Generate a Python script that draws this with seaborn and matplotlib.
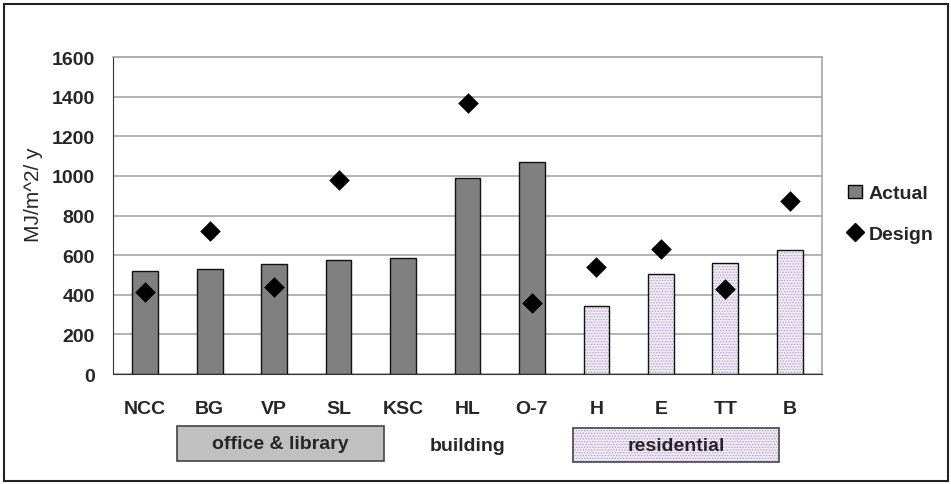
import numpy as np
import pandas as pd
import matplotlib
matplotlib.use("Agg")
import matplotlib.pyplot as plt
import seaborn as sns
from matplotlib.patches import Patch, Rectangle
from matplotlib.lines import Line2D

buildings = ["NCC", "BG", "VP", "SL", "KSC", "HL", "O-7", "H", "E", "TT", "B"]
groups = ["office", "office", "office", "office", "office", "office", "office",
          "residential", "residential", "residential", "residential"]
actual = [522, 532, 553, 576, 585, 989, 1068, 344, 503, 561, 625]
design = [413, 724, 440, 981, np.nan, 1370, 357, 542, 629, 431, 871]

df = pd.DataFrame({"building": buildings, "group": groups,
                   "Actual": actual, "Design": design})

sns.set_style("white")
plt.rcParams["font.family"] = ["Liberation Sans", "DejaVu Sans"]
plt.rcParams["hatch.linewidth"] = 0.6

office_grey = "#808080"
resid_fill = "#f0eaf5"
resid_dots = "#b29dc9"

fig = plt.figure(figsize=(9.51, 4.85), dpi=100)
ax = fig.add_axes([0.1188, 0.2268, 0.7456, 0.6536])

pal = {"office": office_grey, "residential": resid_fill}
sns.barplot(data=df, x="building", y="Actual", hue="group", palette=pal,
            order=buildings, width=0.4, linewidth=0, dodge=False,
            legend=False, ax=ax, zorder=2)
for p, g in zip(sorted(ax.patches, key=lambda r: r.get_x()), groups):
    if g == "residential":
        p.set_hatch("......")
        p.set_edgecolor(resid_dots)
        p.set_linewidth(0)

sns.barplot(data=df, x="building", y="Actual", order=buildings, width=0.4,
            fill=False, color="#111111", linewidth=1, ax=ax, zorder=3)

sns.stripplot(data=df, x="building", y="Design", order=buildings,
              jitter=False, marker="D", color="black", size=10.5,
              linewidth=0, ax=ax, zorder=4)

ax.set_ylim(0, 1600)
ax.set_xlim(-0.5, len(buildings) - 0.5)
ax.set_yticks(range(0, 1601, 200))
ax.yaxis.grid(True, color="#a6a6a6", linewidth=1.2, zorder=0)
ax.set_axisbelow(True)

for side in ["top", "right"]:
    ax.spines[side].set_color("#a6a6a6")
    ax.spines[side].set_linewidth(1.2)
ax.spines["left"].set_color("#333333")
ax.spines["bottom"].set_color("#333333")

ax.tick_params(axis="y", direction="out", length=6, width=1, color="#333333",
               pad=7, labelsize=14)
ax.tick_params(axis="x", length=0, pad=19, labelsize=14)
for lab in ax.get_xticklabels() + ax.get_yticklabels():
    lab.set_fontweight("bold")

ax.set_xlabel("")
ax.set_ylabel("MJ/m^2/ y", fontsize=15)
ax.yaxis.set_label_coords(-0.098, 0.57)

# group boxes under the axis
ax.add_patch(Rectangle((0.0903, -0.2744), 0.2917, 0.1104, transform=ax.transAxes,
                       facecolor="#c0c0c0", edgecolor="#444444", linewidth=1.2,
                       clip_on=False))
ax.text(0.236, -0.219, "office & library", transform=ax.transAxes,
        ha="center", va="center", fontsize=14, fontweight="bold")
ax.text(0.4999, -0.226, "building", transform=ax.transAxes,
        ha="center", va="center", fontsize=14, fontweight="bold")
ax.add_patch(Rectangle((0.6488, -0.2776), 0.2905, 0.1076, transform=ax.transAxes,
                       facecolor=resid_fill, edgecolor=resid_dots, hatch="......",
                       linewidth=0, clip_on=False))
ax.add_patch(Rectangle((0.6488, -0.2776), 0.2905, 0.1076, transform=ax.transAxes,
                       fill=False, edgecolor="#444444", linewidth=1.2,
                       clip_on=False))
ax.text(0.794, -0.224, "residential", transform=ax.transAxes,
        ha="center", va="center", fontsize=14, fontweight="bold")

handles = [Patch(facecolor=office_grey, edgecolor="black", linewidth=1),
           Line2D([], [], marker="D", color="black", linestyle="none",
                  markersize=9)]
leg = ax.legend(handles, ["Actual", "Design"], loc="center left",
                bbox_to_anchor=(1.012, 0.505), frameon=False,
                handlelength=0.7, handleheight=0.7, handletextpad=0.35,
                labelspacing=1.2, prop={"size": 14, "weight": "bold"})

fig.patches.append(Rectangle((0.004, 0.006), 0.993, 0.984,
                             transform=fig.transFigure, fill=False,
                             edgecolor="#222222", linewidth=1.5))

fig.savefig("out.png", dpi=100)
